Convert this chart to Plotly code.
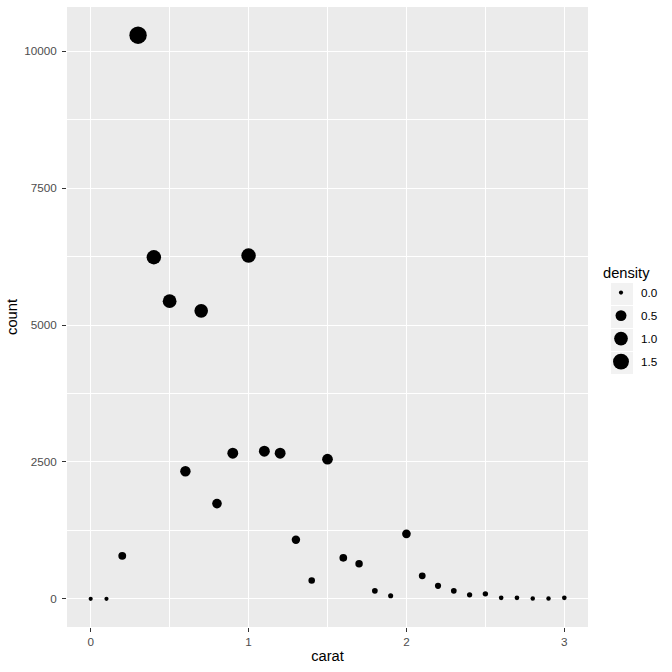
import numpy as np
import plotly.graph_objects as go

# ---- data ----
carat = [0.0, 0.1, 0.2, 0.3, 0.4, 0.5, 0.6, 0.7, 0.8, 0.9,
         1.0, 1.1, 1.2, 1.3, 1.4, 1.5, 1.6, 1.7, 1.8, 1.9,
         2.0, 2.1, 2.2, 2.3, 2.4, 2.5, 2.6, 2.7, 2.8, 2.9, 3.0]
count = [0, 0, 785, 10292, 6237, 5435, 2330, 5258, 1739, 2659,
         6268, 2695, 2659, 1077, 334, 2549, 748, 639, 146, 55,
         1186, 420, 237, 146, 73, 91, 18, 18, 5, 5, 18]
density = [0.000, 0.000, 0.146, 1.908, 1.156, 1.008, 0.432, 0.975, 0.322, 0.493,
           1.162, 0.500, 0.493, 0.200, 0.062, 0.473, 0.139, 0.118, 0.027, 0.010,
           0.220, 0.078, 0.044, 0.027, 0.014, 0.017, 0.003, 0.003, 0.001, 0.001, 0.003]
size_breaks = [0.0, 0.5, 1.0, 1.5]
size_labels = ["0.0", "0.5", "1.0", "1.5"]
x_ticks = [0, 1, 2, 3]
y_ticks = [0, 2500, 5000, 7500, 10000]

# ---- size scale (ggplot2 area scale, range 1..6) ----
dmin, dmax = min(density), max(density)


def marker_px(d):
    s = 1 + 5 * np.sqrt((np.asarray(d, dtype=float) - dmin) / (dmax - dmin))
    return 2.65 * s + 1.5


W = H = 672
L, R, T, B = 67, 84, 7, 45
pw, ph = W - L - R, H - T - B


def px2x(p):
    return (p - L) / pw


def px2y(p):
    return (H - B - p) / ph


# ranges with 5% expansion
xr = [min(carat), max(carat)]
xpad = 0.05 * (xr[1] - xr[0])
yr = [min(count), max(count)]
ypad = 0.05 * (yr[1] - yr[0])

fig = go.Figure()
fig.add_trace(go.Scatter(
    x=carat, y=count, mode="markers",
    marker=dict(color="black", opacity=1, size=marker_px(density), line=dict(width=0)),
    showlegend=False, hoverinfo="skip",
))

for i, (b, lab) in enumerate(zip(size_breaks, size_labels)):
    fig.add_trace(go.Scatter(
        x=[None], y=[None], mode="markers", name=lab,
        legendgroup=f"g{i}",
        marker=dict(color="black", opacity=1, size=float(marker_px(b)), line=dict(width=0)),
    ))

# legend key backgrounds
shapes = []
row_centers = [294, 317, 340, 363]
for c in row_centers:
    shapes.append(dict(type="rect", xref="paper", yref="paper",
                       x0=px2x(611), x1=px2x(633),
                       y0=px2y(c + 11), y1=px2y(c - 11),
                       fillcolor="#F2F2F2", line=dict(width=0), layer="below"))

font_family = "Liberation Sans, Arial, sans-serif"

fig.update_layout(
    width=W, height=H,
    margin=dict(l=L, r=R, t=T, b=B, autoexpand=False),
    paper_bgcolor="white", plot_bgcolor="#EBEBEB",
    font=dict(family=font_family, color="black"),
    shapes=shapes,
    showlegend=True,
    legend=dict(
        title=dict(text="density", font=dict(size=14.7, color="black"), side="top"),
        font=dict(size=11.7, color="black"),
        bgcolor="rgba(0,0,0,0)",
        x=px2x(601), xanchor="left",
        y=px2y(259), yanchor="top",
        tracegroupgap=4,
        itemsizing="trace",
    ),
    xaxis=dict(
        range=[xr[0] - xpad, xr[1] + xpad],
        tickvals=x_ticks, ticktext=[str(v) for v in x_ticks],
        showgrid=True, gridcolor="white", gridwidth=1.1,
        zeroline=False, showline=False,
        ticks="outside", ticklen=4, tickwidth=1.1, tickcolor="#333333",
        tickfont=dict(size=11.7, color="#4D4D4D"),
        minor=dict(tickvals=[0.5, 1.5, 2.5], showgrid=True, gridcolor="white", gridwidth=0.55, ticks=""),
        title=dict(text="carat", font=dict(size=14.7, color="black"), standoff=3),
    ),
    yaxis=dict(
        range=[yr[0] - ypad, yr[1] + ypad],
        tickvals=y_ticks, ticktext=[str(v) for v in y_ticks],
        showgrid=True, gridcolor="white", gridwidth=1.1,
        zeroline=False, showline=False,
        ticks="outside", ticklen=4, tickwidth=1.1, tickcolor="#333333",
        tickfont=dict(size=11.7, color="#4D4D4D"),
        ticklabelstandoff=3,
        minor=dict(tickvals=[1250, 3750, 6250, 8750], showgrid=True, gridcolor="white", gridwidth=0.55, ticks=""),
        title=dict(text="count", font=dict(size=14.7, color="black"), standoff=2),
    ),
)

fig.write_html("out.html")
